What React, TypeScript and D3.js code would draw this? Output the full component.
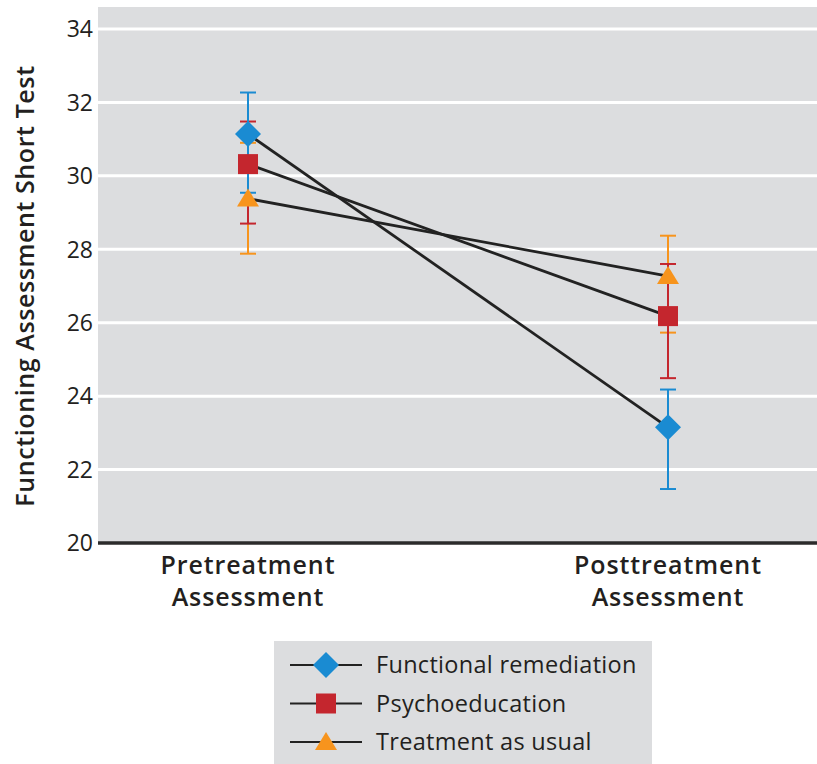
import React, {useEffect} from 'react';
import * as d3 from 'd3';

const timepoints = ['Pretreatment Assessment', 'Posttreatment Assessment'];
const groups = ['Functional remediation', 'Psychoeducation', 'Treatment as usual'];

// mean, lower and upper error bar ends per group, pre / post
const remediationMean = [31.14, 23.15];
const remediationLow = [29.54, 21.47];
const remediationHigh = [32.27, 24.18];

const psychoMean = [30.32, 26.18];
const psychoLow = [28.7, 24.49];
const psychoHigh = [31.48, 27.6];

const tauMean = [29.38, 27.27];
const tauLow = [27.88, 25.73];
const tauHigh = [30.9, 28.37];

const yTicks = [20, 22, 24, 26, 28, 30, 32, 34];

const colors = ['#1a8bd2', '#c4262e', '#f7941d'];
const shapes = ['diamond', 'square', 'triangle'];

const W = 817;
const H = 764;
const FONT = '"Open Sans", "DejaVu Sans", sans-serif';
const INK = '#231f20';

const series = [
  {mean: remediationMean, low: remediationLow, high: remediationHigh},
  {mean: psychoMean, low: psychoLow, high: psychoHigh},
  {mean: tauMean, low: tauLow, high: tauHigh},
];

const Marker = ({shape, cx, cy, fill}: {shape: string; cx: number; cy: number; fill: string}) => {
  if (shape === 'diamond') {
    return <path d={`M${cx},${cy - 13}L${cx + 13},${cy}L${cx},${cy + 13}L${cx - 13},${cy}Z`} fill={fill}/>;
  }
  if (shape === 'square') {
    return <rect x={cx - 10} y={cy - 10} width={20} height={20} fill={fill}/>;
  }
  return <path d={`M${cx},${cy - 10}L${cx + 11},${cy + 8}L${cx - 11},${cy + 8}Z`} fill={fill}/>;
};

const App = () => {
  useEffect(() => {
    document.body.style.margin = '0';
  }, []);

  const plotLeft = 98;
  const plotTop = 7;
  const y = d3.scaleLinear().domain([20, 34]).range([543, 29]);
  const x = d3.scalePoint<string>().domain(timepoints).range([248, 668]);

  const line = d3.line<number>()
    .x((_, i) => x(timepoints[i]) as number)
    .y(d => y(d));

  const drawOrder = [2, 1, 0];

  return (
    <svg width={W} height={H} style={{display: 'block'}} fontFamily={FONT}>
      <rect x={plotLeft} y={plotTop} width={W - plotLeft} height={y(20) - plotTop} fill="#dcdddf"/>
      {yTicks.filter(t => t > 20).map(t => (
        <line key={t} x1={plotLeft} x2={W} y1={y(t)} y2={y(t)} stroke="#fff" strokeWidth={3}/>
      ))}
      <line x1={plotLeft} x2={W} y1={y(20)} y2={y(20)} stroke="#2b2b2b" strokeWidth={3.5}/>
      {yTicks.map(t => (
        <text key={t} x={93} y={y(t)} dy="0.36em" textAnchor="end" fontSize={23} fill={INK}>{t}</text>
      ))}
      <text transform="translate(34,286) rotate(-90)" textAnchor="middle" fontSize={25} fontWeight={600}
            letterSpacing={0.6} fill={INK}>
        Functioning Assessment Short Test
      </text>
      {timepoints.map(tp => {
        const [a, b] = tp.split(' ');
        return (
          <text key={tp} x={x(tp)} textAnchor="middle" fontSize={25} fontWeight={600} letterSpacing={0.9} fill={INK}>
            <tspan x={x(tp)} y={574}>{a}</tspan>
            <tspan x={x(tp)} y={606}>{b}</tspan>
          </text>
        );
      })}
      {drawOrder.map(gi => (
        <g key={'err' + gi} stroke={colors[gi]} strokeWidth={2}>
          {timepoints.map((tp, i) => {
            const cx = x(tp) as number;
            return (
              <g key={tp}>
                <line x1={cx} x2={cx} y1={y(series[gi].low[i])} y2={y(series[gi].high[i])}/>
                <line x1={cx - 8} x2={cx + 8} y1={y(series[gi].low[i])} y2={y(series[gi].low[i])}/>
                <line x1={cx - 8} x2={cx + 8} y1={y(series[gi].high[i])} y2={y(series[gi].high[i])}/>
              </g>
            );
          })}
        </g>
      ))}
      {drawOrder.map(gi => (
        <path key={'ln' + gi} d={line(series[gi].mean) || ''} fill="none" stroke="#222" strokeWidth={2.8}/>
      ))}
      {drawOrder.map(gi => (
        <g key={'mk' + gi}>
          {timepoints.map((tp, i) => (
            <Marker key={tp} shape={shapes[gi]} cx={x(tp) as number} cy={y(series[gi].mean[i])} fill={colors[gi]}/>
          ))}
        </g>
      ))}
      <rect x={274} y={641} width={378} height={H - 641} fill="#dcdddf"/>
      {groups.map((g, i) => {
        const ly = 665 + i * 38.5;
        return (
          <g key={g}>
            <line x1={290} x2={362} y1={ly} y2={ly} stroke="#222" strokeWidth={1.8}/>
            <Marker shape={shapes[i]} cx={326} cy={ly} fill={colors[i]}/>
            <text x={376} y={ly} dy="0.35em" fontSize={23.5} fontWeight={500} letterSpacing={0.3} fill={INK}>{g}</text>
          </g>
        );
      })}
    </svg>
  );
};

export default App;
